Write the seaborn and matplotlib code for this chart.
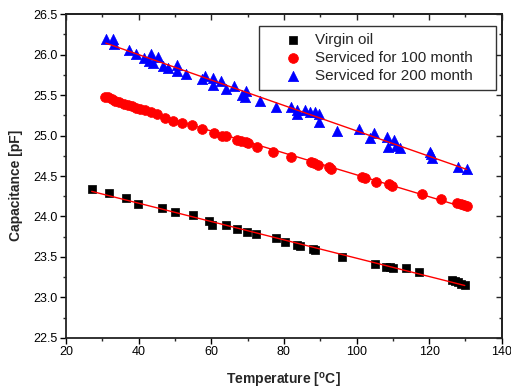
import numpy as np
import seaborn as sns
from matplotlib import pyplot as plt
from matplotlib.ticker import MultipleLocator

# Values
virgin_temp = [27.1, 31.8, 36.5, 39.9, 46.4, 49.9, 54.9, 59.5, 60.3, 64.0, 67.2,
               69.8, 72.4, 77.8, 80.3, 83.7, 84.4, 87.9, 88.7, 95.9, 105.2, 108.1,
               109.2, 110.1, 113.6, 117.1, 126.2, 127.1, 128.0, 128.9, 129.8]
virgin_cap = [24.34, 24.29, 24.23, 24.16, 24.10, 24.05, 24.02, 23.95, 23.90, 23.89,
              23.85, 23.81, 23.78, 23.73, 23.69, 23.65, 23.64, 23.60, 23.59, 23.50,
              23.41, 23.38, 23.37, 23.36, 23.36, 23.32, 23.22, 23.20, 23.19, 23.17,
              23.15]

m100_temp = [30.7, 31.7, 32.6, 33.5, 34.7, 36.1, 37.2, 38.3, 39.3, 40.4, 41.7, 43.4,
             45.0, 47.3, 49.5, 52.0, 54.6, 57.5, 60.7, 62.9, 64.0, 67.2, 68.2, 69.5,
             70.0, 72.5, 76.9, 82.0, 87.4, 88.3, 89.5, 92.4, 93.0, 101.4, 102.3,
             105.5, 109.0, 109.8, 118.1, 123.2, 127.7, 128.7, 129.6, 130.5]
m100_cap = [25.48, 25.47, 25.45, 25.43, 25.41, 25.39, 25.38, 25.36, 25.34, 25.33,
            25.31, 25.29, 25.26, 25.22, 25.18, 25.16, 25.13, 25.08, 25.03, 25.00,
            24.99, 24.94, 24.93, 24.92, 24.91, 24.86, 24.80, 24.73, 24.67, 24.66,
            24.64, 24.61, 24.59, 24.49, 24.47, 24.43, 24.40, 24.38, 24.28, 24.22,
            24.17, 24.15, 24.14, 24.13]

m200_temp = [31.0, 33.0, 33.2, 37.3, 39.3, 41.6, 43.4, 42.9, 44.0, 45.4, 46.8, 48.2,
             50.5, 50.5, 53.0, 57.4, 58.3, 60.5, 60.5, 62.6, 64.2, 66.2, 68.6, 69.7,
             69.3, 73.3, 77.9, 82.1, 83.5, 83.5, 85.8, 87.2, 88.5, 89.7, 89.7, 94.7,
             100.7, 103.7, 104.8, 108.3, 108.7, 110.3, 111.0, 112.1, 120.2, 120.5,
             120.7, 128.0, 130.3]
m200_cap = [26.19, 26.19, 26.13, 26.06, 26.01, 25.96, 26.01, 25.92, 25.90, 25.97,
            25.86, 25.83, 25.87, 25.80, 25.76, 25.70, 25.74, 25.71, 25.63, 25.67,
            25.58, 25.61, 25.50, 25.55, 25.48, 25.43, 25.35, 25.35, 25.31, 25.27,
            25.31, 25.29, 25.29, 25.27, 25.17, 25.06, 25.08, 24.97, 25.03, 24.98,
            24.86, 24.95, 24.87, 24.84, 24.80, 24.77, 24.72, 24.61, 24.59]

series = [
    ('Virgin oil', virgin_temp, virgin_cap, 'black', 's', 30),
    ('Serviced for 100 month', m100_temp, m100_cap, 'red', 'o', 50),
    ('Serviced for 200 month', m200_temp, m200_cap, 'blue', '^', 55),
]

sns.set_style('ticks')
plt.rcParams['font.family'] = ['Liberation Sans', 'DejaVu Sans']
plt.rcParams['mathtext.fontset'] = 'custom'
plt.rcParams['mathtext.rm'] = 'Liberation Sans'
plt.rcParams['mathtext.bf'] = 'Liberation Sans:bold'

fig = plt.figure(figsize=(5.11, 3.92), dpi=100)
ax = fig.add_axes([0.129, 0.138, 0.853, 0.826])

for name, temp, cap, color, marker, size in series:
    sns.scatterplot(x=temp, y=cap, color=color, marker=marker, s=size,
                    edgecolor=color, linewidth=0.5, label=name, ax=ax, zorder=3)
# linear fits (thin red lines)
for name, temp, cap, color, marker, size in series:
    sns.regplot(x=np.array(temp), y=np.array(cap), scatter=False, ci=None,
                color='red', line_kws={'lw': 1.0, 'zorder': 4}, ax=ax,
                truncate=True)

ax.set_xlim(20, 140)
ax.set_ylim(22.5, 26.5)
ax.xaxis.set_major_locator(MultipleLocator(20))
ax.xaxis.set_minor_locator(MultipleLocator(10))
ax.yaxis.set_major_locator(MultipleLocator(0.5))
ax.yaxis.set_minor_locator(MultipleLocator(0.25))
ax.yaxis.set_major_formatter('{x:.1f}')
ax.tick_params(which='major', direction='out', length=4, width=1,
               labelsize=9, colors='black', pad=2)
ax.tick_params(which='minor', direction='out', length=2.5, width=1)

# mirrored ticks on top and right, pointing inward
secx = ax.secondary_xaxis('top')
secx.xaxis.set_major_locator(MultipleLocator(20))
secx.xaxis.set_minor_locator(MultipleLocator(10))
secx.tick_params(which='major', direction='in', length=4, width=1, labeltop=False)
secx.tick_params(which='minor', direction='in', length=2.5, width=1)
secy = ax.secondary_yaxis('right')
secy.yaxis.set_major_locator(MultipleLocator(0.5))
secy.yaxis.set_minor_locator(MultipleLocator(0.25))
secy.tick_params(which='major', direction='in', length=4, width=1, labelright=False)
secy.tick_params(which='minor', direction='in', length=2.5, width=1)

for a in (ax, secx, secy):
    for sp in a.spines.values():
        sp.set_linewidth(1.3)
        sp.set_color('#222222')

ax.set_xlabel(r'Temperature [$^{\mathbf{o}}$C]', fontsize=10, fontweight='bold',
              labelpad=9)
ax.set_ylabel('Capacitance [pF]', fontsize=10, fontweight='bold')
ax.yaxis.set_label_coords(-0.099, 0.472)

leg = ax.legend(loc='upper left', bbox_to_anchor=(0.4427, 0.5, 0.5436, 0.463),
                mode='expand', fontsize=11, frameon=True, fancybox=False,
                edgecolor='black', handletextpad=-0.33, borderpad=0.46,
                labelspacing=0.25, handlelength=3.53, borderaxespad=0)
leg.get_frame().set_linewidth(1.0)

fig.savefig('out.png', dpi=100)
